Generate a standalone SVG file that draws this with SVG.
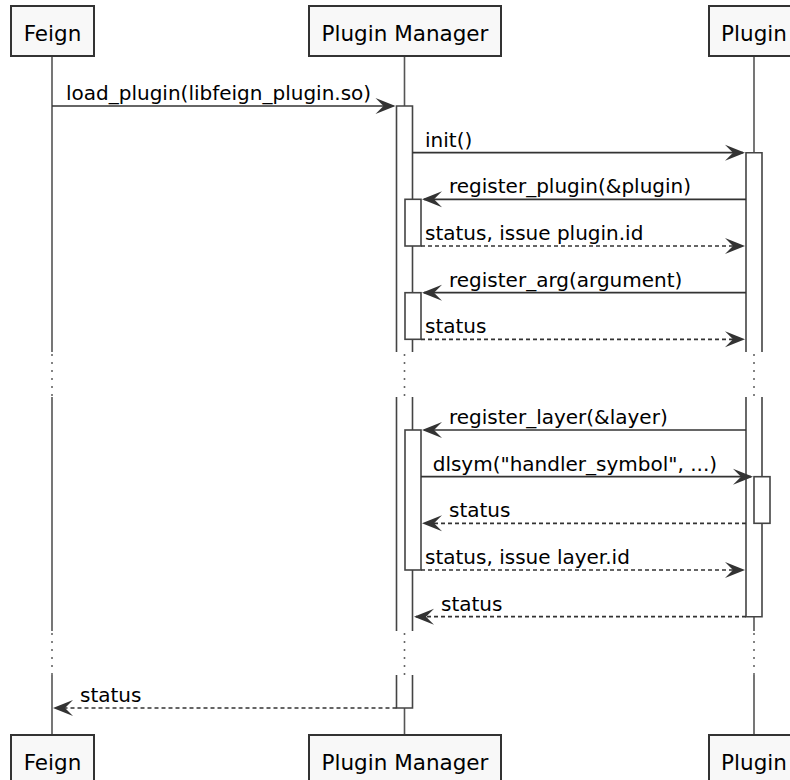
<svg xmlns="http://www.w3.org/2000/svg" width="790" height="780" viewBox="0 0 790 780">
  <defs>
    <marker id="head" viewBox="0 0 21 17" refX="19" refY="8.5" markerWidth="21" markerHeight="17" markerUnits="userSpaceOnUse" orient="auto">
      <path d="M21,8.5 L1,0.5 L9,8.5 L1,16.5 Z" fill="#333333"/>
    </marker>
    <style>
      .box { fill: #F8F8F8; stroke: #333333; stroke-width: 2; }
      .ptext { font-family: "DejaVu Sans", "Liberation Sans", sans-serif; font-size: 21.5px; fill: #000000; text-anchor: middle; }
      .life { stroke: #555555; stroke-width: 1.6; fill: none; }
      .delay { stroke: #666666; stroke-width: 1.6; fill: none; stroke-dasharray: 2 6; }
      .bar { fill: #FFFFFF; stroke: none; }
      .barline { fill: none; stroke: #444444; stroke-width: 1.6; }
      .nest { fill: #FFFFFF; stroke: #444444; stroke-width: 1.6; }
      .msg { stroke: #333333; stroke-width: 1.7; fill: none; marker-end: url(#head); }
      .ret { stroke-dasharray: 4 3; }
      .mtext { font-family: "DejaVu Sans", "Liberation Sans", sans-serif; font-size: 20px; fill: #000000; }
    </style>
  </defs>

  <!-- lifelines, dotted across the two delays -->
  <g id="lifelines">
    <path class="life" d="M52,56 V352 M52,397 V631 M52,675 V735"/>
    <path class="delay" d="M52,354 V397 M52,633 V675"/>
    <path class="life" d="M404.5,56 V352 M404.5,397 V631 M404.5,675 V735"/>
    <path class="delay" d="M404.5,354 V397 M404.5,633 V675"/>
    <path class="life" d="M754,56 V352 M754,397 V631 M754,675 V735"/>
    <path class="delay" d="M754,354 V397 M754,633 V675"/>
  </g>

  <!-- activation bars -->
  <g id="activations">
    <!-- Plugin Manager -->
    <rect class="bar" x="396.5" y="106" width="16" height="246"/>
    <path class="barline" d="M396.5,352 V106 H412.5 V352"/>
    <rect class="bar" x="396.5" y="397" width="16" height="234"/>
    <path class="barline" d="M396.5,397 V631 M412.5,397 V631"/>
    <rect class="bar" x="396.5" y="675" width="16" height="33"/>
    <path class="barline" d="M396.5,675 V708 H412.5 V675"/>
    <rect class="nest" x="405" y="199.3" width="16" height="46.7"/>
    <rect class="nest" x="405" y="292.7" width="16" height="46.6"/>
    <rect class="nest" x="405" y="430" width="16" height="140"/>
    <!-- Plugin -->
    <rect class="bar" x="746" y="152.7" width="16" height="199.3"/>
    <path class="barline" d="M746,352 V152.7 H762 V352"/>
    <rect class="bar" x="746" y="397" width="16" height="219.7"/>
    <path class="barline" d="M746,397 V616.7 H762 V397"/>
    <rect class="nest" x="754" y="476.7" width="16" height="46.6"/>
  </g>

  <!-- participants -->
  <g id="feign">
    <rect class="box" x="11" y="6" width="83" height="50"/>
    <text class="ptext" x="52.5" y="41">Feign</text>
  </g>
  <g id="plugin-manager">
    <rect class="box" x="309" y="6" width="192" height="50"/>
    <text class="ptext" x="405" y="41">Plugin Manager</text>
  </g>
  <g id="plugin">
    <rect class="box" x="709" y="6" width="90" height="50"/>
    <text class="ptext" x="754" y="41">Plugin</text>
  </g>
  <g id="feign-bottom">
    <rect class="box" x="11" y="735" width="83" height="50"/>
    <text class="ptext" x="52.5" y="770">Feign</text>
  </g>
  <g id="plugin-manager-bottom">
    <rect class="box" x="309" y="735" width="192" height="50"/>
    <text class="ptext" x="405" y="770">Plugin Manager</text>
  </g>
  <g id="plugin-bottom">
    <rect class="box" x="709" y="735" width="90" height="50"/>
    <text class="ptext" x="754" y="770">Plugin</text>
  </g>

  <!-- messages -->
  <g id="connectors">
    <line class="msg" x1="52" y1="106" x2="393.5" y2="106"/>
    <line class="msg" x1="412.5" y1="152.7" x2="743" y2="152.7"/>
    <line class="msg" x1="746" y1="199.3" x2="424" y2="199.3"/>
    <line class="msg ret" x1="421" y1="246" x2="743" y2="246"/>
    <line class="msg" x1="746" y1="292.7" x2="424" y2="292.7"/>
    <line class="msg ret" x1="421" y1="339.3" x2="743" y2="339.3"/>
    <line class="msg" x1="746" y1="430" x2="424" y2="430"/>
    <line class="msg" x1="421" y1="476.7" x2="751" y2="476.7"/>
    <line class="msg ret" x1="746" y1="523.3" x2="424" y2="523.3"/>
    <line class="msg ret" x1="421" y1="570" x2="743" y2="570"/>
    <line class="msg ret" x1="746" y1="616.7" x2="416" y2="616.7"/>
    <line class="msg ret" x1="396.5" y1="708" x2="55" y2="708"/>
  </g>

  <g id="labels">
    <text class="mtext" x="66" y="100">load_plugin(libfeign_plugin.so)</text>
    <text class="mtext" x="425" y="146.7">init()</text>
    <text class="mtext" x="449" y="193.3">register_plugin(&amp;plugin)</text>
    <text class="mtext" x="425" y="240">status, issue plugin.id</text>
    <text class="mtext" x="449" y="286.7">register_arg(argument)</text>
    <text class="mtext" x="425" y="333.3">status</text>
    <text class="mtext" x="449" y="424">register_layer(&amp;layer)</text>
    <text class="mtext" x="432.7" y="470.7">dlsym("handler_symbol", ...)</text>
    <text class="mtext" x="449" y="517.3">status</text>
    <text class="mtext" x="425" y="564">status, issue layer.id</text>
    <text class="mtext" x="441" y="610.7">status</text>
    <text class="mtext" x="80" y="702">status</text>
  </g>
</svg>
